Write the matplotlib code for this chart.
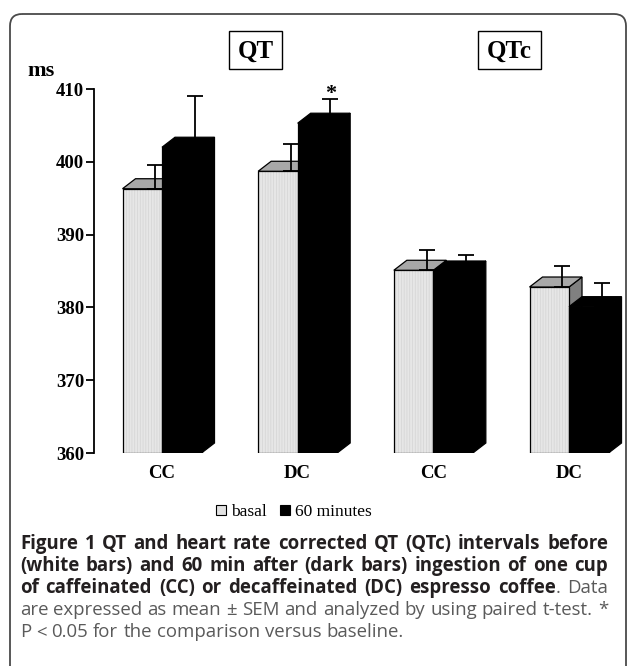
import matplotlib
matplotlib.use('Agg')
import matplotlib.pyplot as plt
from matplotlib.patches import Polygon, Rectangle, FancyBboxPatch, Patch

# ---------------- data ----------------
categories = ['CC', 'DC', 'CC', 'DC']
panel_titles = ['QT', 'QTc']
basal = [396.3, 398.7, 385.1, 382.8]
basal_sem = [3.3, 3.7, 2.8, 2.9]
min60 = [402.0, 405.3, 385.0, 380.1]
min60_sem = [7.0, 3.3, 2.2, 3.3]
significant = [False, True, False, False]
yticks = [360, 370, 380, 390, 400, 410]
ylabel = 'ms'
legend_labels = ['basal', '60 minutes']

caption_lines = [
    [("Figure 1 QT and heart rate corrected QT (QTc) intervals before", True)],
    [("(white bars) and 60 min after (dark bars) ingestion of one cup", True)],
    [("of caffeinated (CC) or decaffeinated (DC) espresso coffee", True), (". Data", False)],
    [("are expressed as mean \u00b1 SEM and analyzed by using paired t-test. *", False)],
    [("P < 0.05 for the comparison versus baseline.", False)],
]

# ---------------- style ----------------
SERIF = 'Liberation Serif'
SANS = 'Open Sans'
W, H = 628, 666
fig = plt.figure(figsize=(W / 100, H / 100), dpi=100)

ov = fig.add_axes([0, 0, 1, 1])
ov.set_xlim(0, W)
ov.set_ylim(H, 0)
ov.axis('off')

frame = FancyBboxPatch((10, 14), 616, 720, boxstyle='round,pad=0,rounding_size=12',
                       fill=False, edgecolor='#4a4a4a', linewidth=1.3, clip_on=False)
ov.add_patch(frame)

ax_left, ax_right, ax_top, ax_bottom = 94, 628, 89, 453
ax = fig.add_axes([ax_left / W, (H - ax_bottom) / H, (ax_right - ax_left) / W,
                   (ax_bottom - ax_top) / H])
ax.set_facecolor('none')
spacing_px = 135.67
first_px = 162
ax.set_xlim((ax_left - first_px) / spacing_px, (ax_right - first_px) / spacing_px)
ax.set_ylim(yticks[0], yticks[-1])

bw = 39.5 / spacing_px
ddx = 13 / spacing_px
ddy = 10 / ((ax_bottom - ax_top) / (yticks[-1] - yticks[0]))
base = yticks[0]


def bar3d(x0, v, front, top, side, hatch=None):
    x1 = x0 + bw
    ax.add_patch(Polygon([(x1, base), (x1 + ddx, base + ddy), (x1 + ddx, v + ddy), (x1, v)],
                         closed=True, facecolor=side, edgecolor='black', linewidth=0.9,
                         joinstyle='miter'))
    if hatch:
        ax.add_patch(Rectangle((x0, base), bw, v - base, facecolor=front,
                               edgecolor='#d4d4d4', linewidth=0, hatch=hatch))
        ax.add_patch(Rectangle((x0, base), bw, v - base, fill=False,
                               edgecolor='black', linewidth=0.9))
    else:
        ax.add_patch(Rectangle((x0, base), bw, v - base, facecolor=front,
                               edgecolor='black', linewidth=0.9))
    ax.add_patch(Polygon([(x0, v), (x0 + ddx, v + ddy), (x1 + ddx, v + ddy), (x1, v)],
                         closed=True, facecolor=top, edgecolor='black', linewidth=0.9,
                         joinstyle='miter'))


plt.rcParams['hatch.linewidth'] = 0.5
for i, cat in enumerate(categories):
    bar3d(i - bw, basal[i], '#e6e6e6', '#a8a8a8', '#808080', hatch='||||||')
    bar3d(i, min60[i], 'black', 'black', 'black')

for i in range(len(categories)):
    xb = i - bw / 2 + ddx
    xd = i + bw / 2 + ddx
    ax.errorbar([xb], [basal[i]], yerr=[[0], [basal_sem[i]]], fmt='none', ecolor='black',
                elinewidth=1.3, capsize=5.5, capthick=1.3, zorder=5, clip_on=False)
    ax.errorbar([xd], [min60[i]], yerr=[[0], [min60_sem[i]]], fmt='none', ecolor='black',
                elinewidth=1.3, capsize=5.5, capthick=1.3, zorder=5, clip_on=False)
    if significant[i]:
        ax.text(xd, min60[i] + min60_sem[i], '*', ha='center', va='baseline',
                fontsize=16, fontweight='bold', family=SERIF, clip_on=False)

for s in ['top', 'right', 'bottom']:
    ax.spines[s].set_visible(False)
ax.spines['left'].set_linewidth(1.3)
ax.spines['left'].set_bounds(yticks[0], yticks[-1])
ax.set_yticks(yticks)
ax.set_yticklabels([str(t) for t in yticks], fontfamily=SERIF, fontweight='bold', fontsize=13.5)
ax.tick_params(axis='y', length=6, width=1.3, pad=1, direction='out')
ax.set_xticks(range(len(categories)))
ax.set_xticklabels(categories, fontfamily=SERIF, fontweight='bold', fontsize=13.5)
ax.tick_params(axis='x', length=0, pad=9)

ov.text(27, 71, ylabel, ha='left', va='center', fontfamily=SERIF, fontweight='bold', fontsize=16)

for (cx, bwid), title in zip([(255.5, 53), (509.5, 63)], panel_titles):
    ov.add_patch(Rectangle((cx - bwid / 2, 31), bwid, 38, fill=False, edgecolor='black',
                           linewidth=1.0))
    ov.text(cx, 51, title, ha='center', va='center', fontfamily=SERIF, fontweight='bold',
            fontsize=18)

handles = [Patch(facecolor='#e2e2e2', edgecolor='black', linewidth=0.8),
           Patch(facecolor='black', edgecolor='black', linewidth=0.8)]
fig.legend(handles, legend_labels, loc='center', bbox_to_anchor=(294 / W, 1 - 512 / H),
           ncol=2, frameon=False, handlelength=0.55, handleheight=0.55, handletextpad=0.3,
           columnspacing=0.8, prop={'family': SERIF, 'size': 12.5})

# ---------------- caption (justified) ----------------
fig.canvas.draw()
renderer = fig.canvas.get_renderer()
bold_col = '#231f20'
reg_col = '#5a5a5a'
x_left, x_right = 20, 608
baselines = [549, 571, 593, 615, 637]


def tw(s, bold, fs):
    t = ov.text(0, 0, s, fontsize=fs, family=SANS, fontweight='bold' if bold else 'normal')
    w = t.get_window_extent(renderer).width
    t.remove()
    return w


def split_words(segs):
    words = []
    for si, (txt, bold) in enumerate(segs):
        parts = txt.split(' ')
        for pi, p in enumerate(parts):
            if pi == 0 and si > 0 and words:
                words[-1].append((p, bold))
            else:
                words.append([(p, bold)])
    return words


line_words = [split_words(s) for s in caption_lines]


def natural_width(words, fs):
    sp = tw('a a', False, fs) - tw('aa', False, fs)
    return sum(tw(p, b, fs) for w in words for p, b in w) + sp * (len(words) - 1)


fs0 = 11.0
widest = max(natural_width(w, fs0) for w in line_words[:-1])
cap_fs = fs0 * (x_right - x_left) / widest

space_w = tw('a a', False, cap_fs) - tw('aa', False, cap_fs)
for li, (words, yb) in enumerate(zip(line_words, baselines)):
    widths = [sum(tw(p, b, cap_fs) for p, b in w) for w in words]
    justify = li < len(line_words) - 1
    if justify and len(words) > 1:
        gap = (x_right - x_left - sum(widths)) / (len(words) - 1)
    else:
        gap = space_w
    x = x_left
    for w, wid in zip(words, widths):
        xx = x
        for p, b in w:
            ov.text(xx, yb, p, fontsize=cap_fs, family=SANS, fontweight='bold' if b else 'normal',
                    color=bold_col if b else reg_col, ha='left', va='baseline')
            xx += tw(p, b, cap_fs)
        x += wid + gap

fig.savefig('out.png', dpi=100)
